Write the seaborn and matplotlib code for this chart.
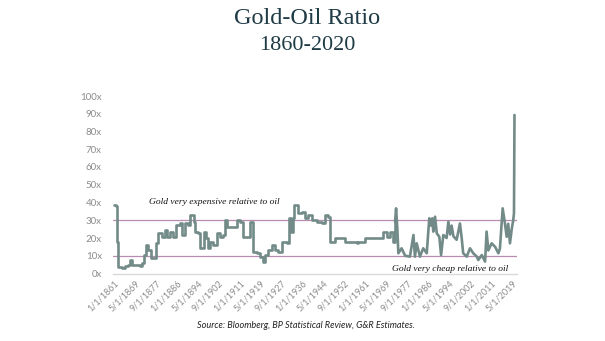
import matplotlib
matplotlib.use("Agg")
import matplotlib.pyplot as plt
import seaborn as sns
import pandas as pd

years = [1861.0, 1861.6, 1862.1, 1862.5, 1862.7, 1864.1, 1865.4, 1866.7, 1867.4, 1868.0,
         1871.3, 1872.3, 1873.1, 1873.7, 1874.6, 1875.3, 1875.7, 1877.3, 1877.7, 1878.6,
         1880.0, 1881.3, 1882.1, 1883.3, 1884.6, 1885.5, 1887.3, 1887.9, 1889.2, 1890.6,
         1891.4, 1892.3, 1892.7, 1893.2, 1894.3, 1895.2, 1896.1, 1896.7, 1897.6, 1898.3,
         1899.2, 1900.5, 1901.9, 1903.2, 1904.5, 1905.2, 1905.8, 1909.1, 1909.8, 1911.1,
         1912.4, 1914.4, 1915.1, 1915.8, 1916.4, 1917.8, 1919.1, 1920.2, 1921.1, 1922.4,
         1923.7, 1925.0, 1926.4, 1927.7, 1929.7, 1930.7, 1931.4, 1932.1, 1932.7, 1933.7,
         1934.3, 1935.7, 1937.0, 1938.3, 1939.6, 1941.6, 1943.6, 1944.9, 1946.2, 1946.9,
         1948.2, 1948.9, 1952.2, 1952.9, 1957.5, 1958.2, 1960.6, 1960.8, 1966.8, 1968.1,
         1969.5, 1970.8, 1972.1, 1972.8, 1973.2, 1973.7, 1974.1, 1975.4, 1976.8, 1978.7,
         1980.1, 1980.7, 1981.4, 1982.7, 1984.0, 1985.4, 1986.4, 1987.0, 1987.6, 1988.0,
         1988.7, 1989.4, 1990.4, 1991.1, 1992.0, 1993.3, 1994.0, 1994.7, 1995.3, 1996.0,
         1997.3, 1998.6, 1999.3, 1999.9, 2001.3, 2002.6, 2003.9, 2005.3, 2005.9, 2007.3,
         2008.6, 2009.2, 2009.9, 2011.2, 2012.6, 2013.9, 2014.5, 2015.6, 2016.5, 2017.2,
         2017.8, 2018.5, 2019.2, 2019.8, 2020.1, 2020.3]
ratio = [38.6, 38.0, 18.0, 17.5, 3.5, 3.0, 4.5, 5.0, 7.6, 5.0,
         4.5, 6.0, 10.4, 16.0, 13.0, 13.0, 8.7, 8.7, 17.0, 22.6,
         20.7, 24.5, 20.7, 23.6, 20.7, 27.3, 28.2, 21.6, 28.2, 27.3,
         33.0, 33.0, 29.0, 23.6, 22.7, 14.2, 14.5, 23.6, 20.0, 14.5,
         18.0, 16.0, 22.6, 20.7, 21.6, 30.1, 26.4, 26.4, 30.1, 29.0,
         20.7, 20.7, 29.0, 29.0, 12.3, 11.3, 9.5, 6.7, 10.4, 13.1,
         16.0, 13.1, 12.3, 17.9, 17.0, 31.1, 23.6, 31.0, 38.6, 38.6,
         33.9, 34.9, 31.1, 33.0, 30.1, 29.0, 28.2, 33.0, 32.0, 17.9,
         17.9, 19.8, 19.8, 17.9, 17.0, 17.9, 17.9, 19.8, 19.8, 23.6,
         20.7, 23.6, 17.9, 29.0, 36.7, 25.0, 11.4, 14.2, 10.0, 9.5,
         21.7, 9.5, 17.0, 9.5, 14.2, 11.4, 31.1, 27.0, 31.1, 23.6,
         32.0, 22.6, 20.7, 10.4, 21.7, 20.0, 29.2, 22.0, 27.0, 21.0,
         19.0, 28.2, 20.0, 11.4, 9.5, 14.2, 11.4, 9.5, 7.6, 10.4,
         6.7, 23.6, 13.0, 17.0, 15.0, 11.4, 14.0, 36.7, 28.2, 20.7,
         28.0, 17.0, 25.0, 30.0, 34.0, 89.3]

tick_labels = ["1/1/1861", "5/1/1869", "9/1/1877", "1/1/1886", "5/1/1894", "9/1/1902",
               "1/1/1911", "5/1/1919", "9/1/1927", "1/1/1936", "5/1/1944", "9/1/1952",
               "1/1/1961", "5/1/1969", "9/1/1977", "1/1/1986", "5/1/1994", "9/1/2002",
               "1/1/2011", "5/1/2019"]
y_ticks = [0, 10, 20, 30, 40, 50, 60, 70, 80, 90, 100]
band_levels = [10, 30]
monthly_start = 1972.8  # annual (stepped) data before, monthly data after

df = pd.DataFrame({"year": years, "ratio": ratio})
df_annual = df[df["year"] <= monthly_start]
df_monthly = df[df["year"] >= monthly_start]

def label_pos(s):
    m, d, y = s.split("/")
    return int(y) + (int(m) - 1) / 12.0

sns.set_style("white")
plt.rcParams["font.family"] = ["Lato", "DejaVu Sans"]

fig = plt.figure(figsize=(6.05, 3.41), dpi=100)
ax = fig.add_axes([113 / 605, 1 - 273.5 / 341, (517 - 113) / 605, (273.5 - 96) / 341])

for lv in band_levels:
    ax.axhline(lv, color="#b88bb0", lw=0.9, zorder=1)

line_color = "#728b88"
sns.lineplot(data=df_annual, x="year", y="ratio", ax=ax, color=line_color, lw=1.9,
             estimator=None, sort=False, zorder=3, drawstyle="steps-post")
sns.lineplot(data=df_monthly, x="year", y="ratio", ax=ax, color=line_color, lw=1.9,
             estimator=None, sort=False, zorder=3)

ax.set_xlim(1860.6, 2021.3)
ax.set_ylim(0, 100)
ax.set_yticks(y_ticks)
ax.set_yticklabels([f"{v}x" for v in y_ticks], color="#8c8c8c", fontsize=7)
ax.set_xticks([label_pos(s) for s in tick_labels])
ax.set_xticklabels(tick_labels, rotation=45, ha="right", rotation_mode="anchor",
                   color="#8c8c8c", fontsize=6.5)
ax.tick_params(axis="y", length=0, pad=8)
ax.tick_params(axis="x", length=0, pad=4)
ax.set_xlabel("")
ax.set_ylabel("")
for side in ["top", "right", "left"]:
    ax.spines[side].set_visible(False)
ax.spines["bottom"].set_color("#d9d9d9")
ax.spines["bottom"].set_linewidth(1.0)

ax.text(1875.0, 40.5, "Gold very expensive relative to oil", fontstyle="italic",
        family=["Liberation Serif"], fontsize=6.8, color="#111111", va="center")
ax.text(1971.5, 2.8, "Gold very cheap relative to oil", fontstyle="italic",
        family=["Liberation Serif"], fontsize=6.8, color="#111111", va="center")

fig.text(0.508, 1 - 19 / 341, "Gold-Oil Ratio", ha="center", va="center",
         family=["Liberation Serif"], fontsize=17.5, color="#1f3b45")
fig.text(0.508, 1 - 46 / 341, "1860-2020", ha="center", va="center",
         family=["Liberation Serif"], fontsize=16, color="#1f3b45")
fig.text(0.505, 1 - 326 / 341, "Source: Bloomberg, BP Statistical Review, G&R Estimates.",
         ha="center", va="center", fontstyle="italic", fontsize=6.6, color="#222222")

fig.savefig("out.png", dpi=100, facecolor="white")
